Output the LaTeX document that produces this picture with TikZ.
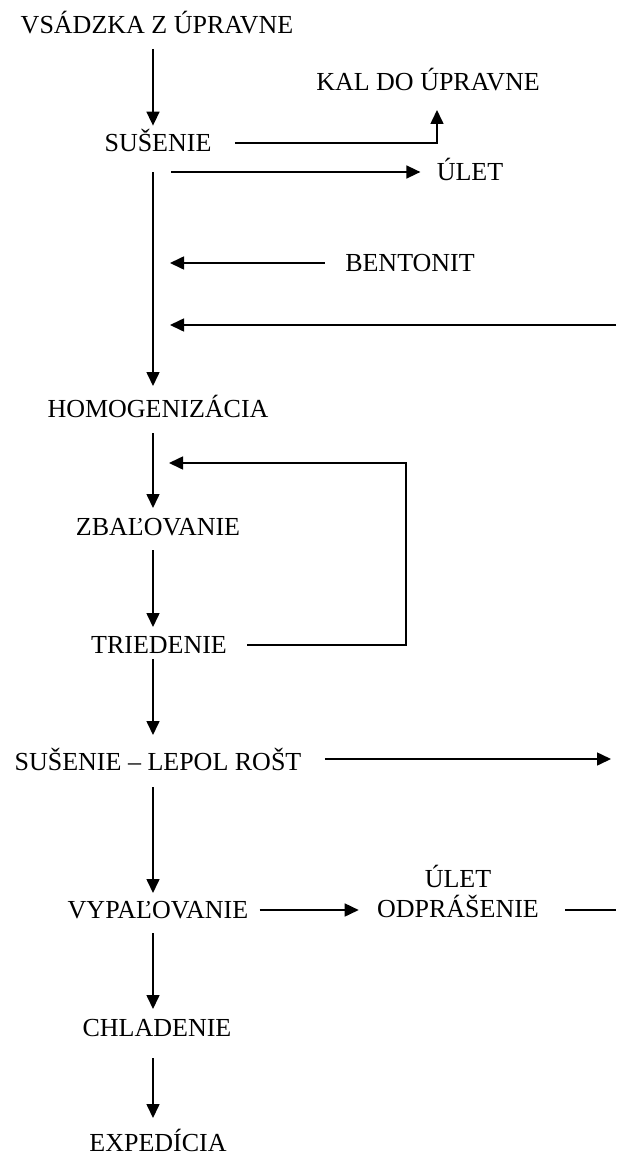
\documentclass[tikz,border=0pt]{standalone}
\usepackage{fontspec}
\setmainfont{Liberation Serif}
\usetikzlibrary{arrows.meta}

\begin{document}
\begin{tikzpicture}[x=0.5pt,y=-0.5pt]
\tikzset{
  stage/.style={inner sep=0pt,text height=8.6pt,text depth=0pt,font=\fontsize{13}{15}\selectfont},
  directed/.style={-{Triangle[length=7pt,width=6.5pt]},line width=0.8pt},
  plain/.style={line width=0.8pt}
}
\useasboundingbox (0,0) rectangle (616,1156);
\node[stage] (n_vsadzka) at (157,25) {VSÁDZKA Z ÚPRAVNE};
\node[stage] (n_kal) at (428,82) {KAL DO ÚPRAVNE};
\node[stage] (n_susenie) at (158,143) {SUŠENIE};
\node[stage] (n_ulet) at (470,172) {ÚLET};
\node[stage] (n_bentonit) at (410,263) {BENTONIT};
\node[stage] (n_homog) at (158,409) {HOMOGENIZÁCIA};
\node[stage] (n_zbal) at (158,527) {ZBAĽOVANIE};
\node[stage] (n_tried) at (159,645) {TRIEDENIE};
\node[stage] (n_lepol) at (158,762) {SUŠENIE -- LEPOL ROŠT};
\node[stage] (n_vypal) at (158,910) {VYPAĽOVANIE};
\node[inner sep=0pt,align=center,anchor=south,font=\fontsize{13}{15}\selectfont] (n_odpr) at (458,918.6) {ÚLET\\ODPRÁŠENIE};
\node[stage] (n_chlad) at (157,1028) {CHLADENIE};
\node[stage] (n_exped) at (158,1143) {EXPEDÍCIA};
% main line and side streams
\coordinate (c_axis) at (153,0);
\coordinate (c_ulet) at (171,172);
\coordinate (c_bentonit) at (170,263);
\coordinate (c_inr) at (616,325);
\coordinate (c_inl) at (170,325);
\coordinate (c_loopr) at (406,463);
\coordinate (c_loop) at (169,463);
\coordinate (c_lepol) at (611,759);
\coordinate (c_odpr) at (616,910);
\draw[directed,shorten <=7.5pt,shorten >=4.2pt] (n_vsadzka.south -| c_axis) -- (n_susenie.north -| c_axis);
\draw[directed] ([xshift=11.5pt]n_susenie.east) -| ([xshift=4.5pt,yshift=-9.5pt]n_kal.south);
\draw[directed] (c_ulet) -- ([xshift=-8pt]n_ulet.west);
\draw[directed,shorten <=10pt,shorten >=7pt] (n_susenie.south -| c_axis) -- (n_homog.north -| c_axis);
\draw[directed] ([xshift=-10pt]n_bentonit.west) -- (c_bentonit);
\draw[directed] (c_inr) -- (c_inl);
\draw[directed,shorten <=7.5pt,shorten >=5pt] (n_homog.south -| c_axis) -- (n_zbal.north -| c_axis);
\draw[directed,shorten <=7pt,shorten >=4.5pt] (n_zbal.south -| c_axis) -- (n_tried.north -| c_axis);
\draw[directed] ([xshift=10pt]n_tried.east) -| (c_loopr) -- (c_loop);
\draw[directed,shorten <=2.5pt,shorten >=9pt] (n_tried.south -| c_axis) -- (n_lepol.north -| c_axis);
\draw[directed] ([xshift=11.5pt]n_lepol.east |- c_lepol) -- (c_lepol);
\draw[directed,shorten <=8pt,shorten >=4pt] (n_lepol.south -| c_axis) -- (n_vypal.north -| c_axis);
\draw[directed] ([xshift=5.5pt]n_vypal.east) -- ([xshift=-9pt]n_vypal.east -| n_odpr.west);
\draw[plain] ([xshift=13pt]n_vypal.east -| n_odpr.east) -- (c_odpr);
\draw[directed,shorten <=7pt,shorten >=5pt] (n_vypal.south -| c_axis) -- (n_chlad.north -| c_axis);
\draw[directed,shorten <=10.5pt,shorten >=8pt] (n_chlad.south -| c_axis) -- (n_exped.north -| c_axis);
\end{tikzpicture}
\end{document}
